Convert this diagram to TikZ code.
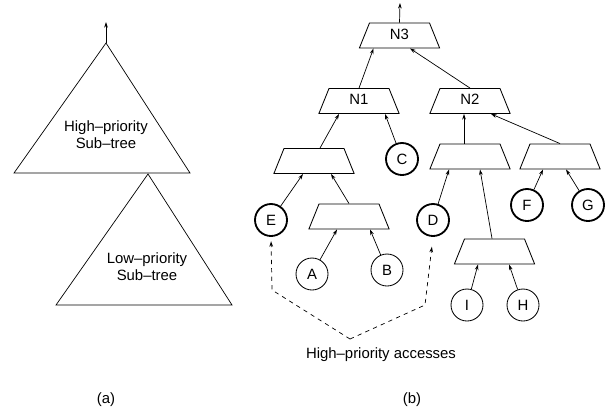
\documentclass[tikz,border=0pt]{standalone}
\usepackage{fontspec}
\setmainfont{Liberation Sans}
\usetikzlibrary{shapes.geometric,arrows.meta,calc}
\begin{document}
\begin{tikzpicture}[x=.025cm,y=-.025cm,
      box/.style={draw,line width=.6pt,trapezium,trapezium angle=68,inner sep=0pt,
        text width=1.5cm,align=center,text height=.41cm,text depth=.215cm},
      leaf/.style={draw,line width=.6pt,circle,minimum size=.8cm,inner sep=0pt},
      hot/.style={leaf,line width=1.3pt},
      up/.style={-{Stealth[length=4pt,width=2.6pt]},line width=.5pt},
      hint/.style={dashed,line width=.5pt,-{Stealth[open,length=4pt,width=2.6pt]}},
      font=\fontsize{10.6}{12.2}\selectfont]
    \useasboundingbox (0,0) rectangle (609,415);
    % (a) two sub-trees
    \coordinate (hi) at (106,43);
    \coordinate (lo) at (148,174);
    \coordinate (root) at (106,22);
    \draw[line width=.5pt] (hi) -- (14,173) -- (190,173) -- cycle;
    \draw[line width=.5pt] (lo) -- (56,305) -- (232,305) -- cycle;
    \draw[up] (hi) -- (root);
    \node[align=center] (hitext) at (106,135) {High–priority\\Sub–tree};
    \node[align=center] (lotext) at (147,267) {Low–priority\\Sub–tree};
    \node (capa) at (106,400) {(a)};
    % (b) tree with hot leaves
    \node[box] (n3) at (399.5,35.5) {N3};
    \node[box] (n1) at (359,101) {N1};
    \node[box] (n2) at (470,101) {N2};
    \node[box] (t1) at (314,161) {};
    \node[box] (t2) at (470,156.5) {};
    \node[box] (t3) at (560,156.5) {};
    \node[box] (t4) at (349,216.5) {};
    \node[box] (t5) at (494.5,251.5) {};
    \node[hot] (c) at (402,159) {C};
    \node[hot] (e) at (271,220) {E};
    \node[hot] (d) at (433,220) {D};
    \node[hot] (f) at (527,205) {F};
    \node[hot] (g) at (588,205) {G};
    \node[leaf] (a) at (312,274) {A};
    \node[leaf] (b) at (387,270) {B};
    \node[leaf] (i) at (467,305) {I};
    \node[leaf] (h) at (523,305) {H};
    \coordinate (top) at (400,3);
    \draw[up] (n3.north) -- (top);
    \draw[up] (n1.north) -- ($(n3.south)+(-26,0)$);
    \draw[up] (n2.north) -- ($(n3.south)+(10.5,0)$);
    \draw[up] ($(t1.north)+(6,0)$) -- ($(n1.south)+(-20,0)$);
    \draw[up] (c) -- ($(n1.south)+(26,0)$);
    \draw[up] ($(t2.north)+(-6,0)$) -- ($(n2.south)+(-6,0)$);
    \draw[up] (t3.north) -- ($(n2.south)+(21,0)$);
    \draw[up] (e) -- ($(t1.south)+(-11,0)$);
    \draw[up] (t4.north) -- ($(t1.south)+(17,0)$);
    \draw[up] (a) -- ($(t4.south)+(-12,0)$);
    \draw[up] (b) -- ($(t4.south)+(21,0)$);
    \draw[up] (d) -- ($(t2.south)+(-21,0)$);
    \draw[up] ($(t5.north)+(-2.5,0)$) -- ($(t2.south)+(10,0)$);
    \draw[up] (f) -- ($(t3.south)+(-17,0)$);
    \draw[up] (g) -- ($(t3.south)+(6,0)$);
    \draw[up] (i) -- ($(t5.south)+(-16.5,0)$);
    \draw[up] (h) -- ($(t5.south)+(14.5,0)$);
    % high-priority accesses
    \node (acc) at (381,355) {High–priority accesses};
    \coordinate (meet) at (350,339);
    \coordinate (bendl) at (272,290);
    \coordinate (bendr) at (425,305);
    \draw[hint,shorten >=3pt] (meet) -- (bendl) -- (e.south);
    \draw[hint,shorten >=7pt] (meet) -- (bendr) -- (d.south);
    \node (capb) at (412,400) {(b)};
  \end{tikzpicture}
\end{document}
